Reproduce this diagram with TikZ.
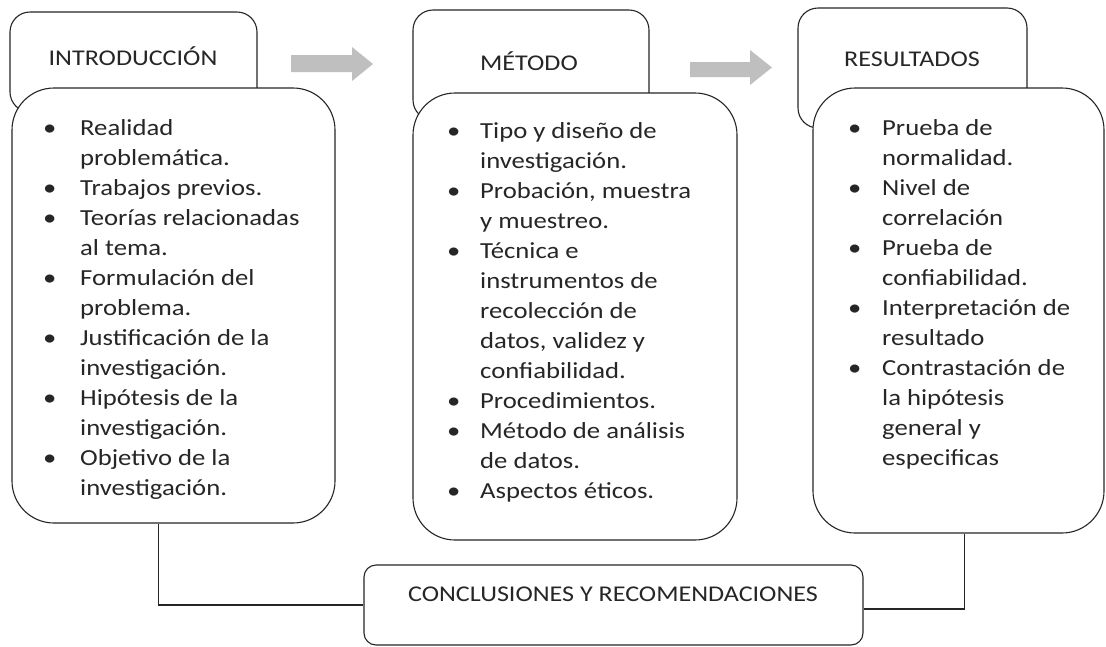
\documentclass[tikz,border=0pt]{standalone}
\usepackage{fontspec}
\setmainfont{Carlito}[FakeStretch=1.16]
\newlength\bulw
\newcommand{\bi}{\makebox[\bulw][l]{\textbullet}}
\newcommand{\ct}{\hspace*{\bulw}}
\tikzset{
  hdr/.style={draw=black!85, line width=1.1pt, rounded corners=20pt, fill=white, inner sep=0pt},
  body/.style={draw=black!85, line width=1.1pt, rounded corners=42pt, fill=white, inner sep=0pt},
  concl/.style={draw=black!85, line width=1.1pt, rounded corners=12pt, fill=white, inner sep=0pt},
  hdrtext/.style={inner sep=0pt, font=\fontsize{22.5}{27}\selectfont, text=black!85},
  lst/.style={anchor=north west, align=left, inner sep=0pt, font=\fontsize{23}{30}\selectfont, text=black!85},
  bulletwidth/.code={\global\bulw=#1\relax},
  link/.style={draw=black!85, line width=1.1pt},
  blockarrow/.style={fill=black!25, draw=none}
}
\begin{document}
\begin{tikzpicture}[x=1pt,y=-1pt]
\useasboundingbox (0,0) rectangle (1106,646);
\fill[white] (0,0) rectangle (1106,646);

% block arrows
\fill[blockarrow] (291,55) -- (352,55) -- (352,47) -- (373,64) -- (352,81) -- (352,72) -- (291,72) -- cycle;
\fill[blockarrow] (690,62) -- (750,62) -- (750,50) -- (772,67.5) -- (750,85) -- (750,77) -- (690,77) -- cycle;

% header boxes
\node[hdr, minimum width=247pt, minimum height=100pt] (ih) at (133.5,62) {};
\node[hdr, minimum width=236pt, minimum height=110pt] (mh) at (531,65) {};
\node[hdr, minimum width=229pt, minimum height=120pt] (rh) at (912.5,68) {};
\node[hdrtext] (iht) at (133,56) {INTRODUCCIÓN};
\node[hdrtext] (mht) at (529,61) {MÉTODO};
\node[hdrtext] (rht) at (912,59) {RESULTADOS};

% body boxes
\node[body, minimum width=323pt, minimum height=435pt] (ib) at (173.5,305.5) {};
\node[body, minimum width=324pt, minimum height=447pt] (mb) at (575,316.5) {};
\node[body, minimum width=291pt, minimum height=445pt] (rb) at (958.5,310.5) {};

% conclusion box
\node[concl, minimum width=499pt, minimum height=80pt] (cc) at (613.5,605) {};
\node[hdrtext] (cct) at (613,594) {CONCLUSIONES Y RECOMENDACIONES};

% connectors
\draw[link] ([xshift=-15pt]ib.south) |- (cc.west);
\draw[link] ([xshift=6pt]rb.south) |- ([yshift=-4pt]cc.east);

% lists
\node[lst, bulletwidth=37pt] (il) at (43,114) {%
\bi\strut Realidad\\
\ct problemática.\\
\bi Trabajos previos.\\
\bi Teorías relacionadas\\
\ct al tema.\\
\bi Formulación del\\
\ct problema.\\
\bi Justificación de la\\
\ct investigación.\\
\bi Hipótesis de la\\
\ct investigación.\\
\bi Objetivo de la\\
\ct investigación.};

\node[lst, bulletwidth=33pt] (ml) at (447,117) {%
\bi\strut Tipo y diseño de\\
\ct investigación.\\
\bi Probación, muestra\\
\ct y muestreo.\\
\bi Técnica e\\
\ct instrumentos de\\
\ct recolección de\\
\ct datos, validez y\\
\ct confiabilidad.\\
\bi Procedimientos.\\
\bi Método de análisis\\
\ct de datos.\\
\bi Aspectos éticos.};

\node[lst, bulletwidth=34pt] (rl) at (848,114) {%
\bi\strut Prueba de\\
\ct normalidad.\\
\bi Nivel de\\
\ct correlación\\
\bi Prueba de\\
\ct confiabilidad.\\
\bi Interpretación de\\
\ct resultado\\
\bi Contrastación de\\
\ct la hipótesis\\
\ct general y\\
\ct especificas};
\end{tikzpicture}
\end{document}
